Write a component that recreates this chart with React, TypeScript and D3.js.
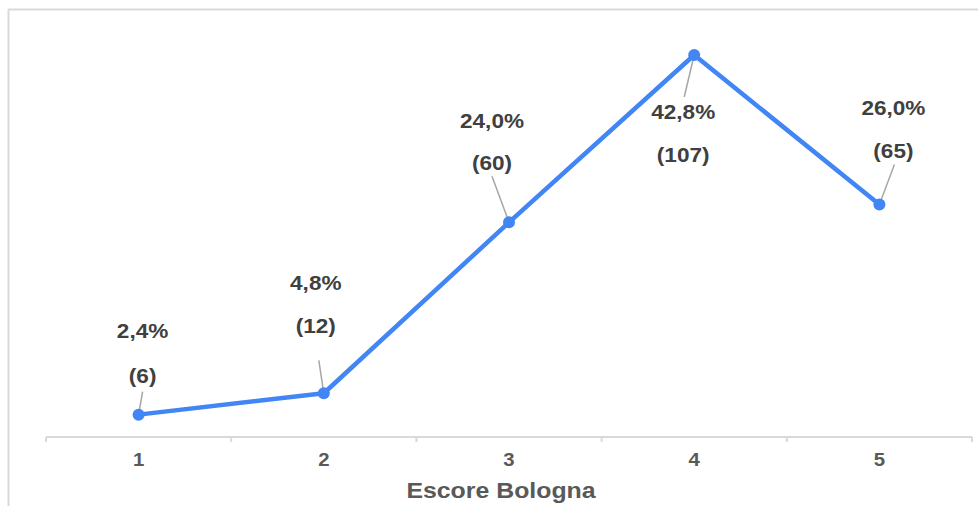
import React from "react";
import * as d3 from "d3";

const categories = ["1", "2", "3", "4", "5"];
const percentages = [2.4, 4.8, 24.0, 42.8, 26.0];
const counts = [6, 12, 60, 107, 65];
const axisTitle = "Escore Bologna";

// label placement relative to each point (layout only)
const labelLayout = [
  { dx: 4, pctDy: -83, cntDy: -38, lx: 4, ly: -23 },
  { dx: -8, pctDy: -110, cntDy: -67, lx: -5, ly: -33 },
  { dx: -17, pctDy: -101, cntDy: -59, lx: -17, ly: -46 },
  { dx: -11, pctDy: 57, cntDy: 100, lx: -10, ly: 42 },
  { dx: 14, pctDy: -96, cntDy: -53, lx: 15, ly: -40 },
];

const W = 978;
const H = 506;
const FONT = "'Liberation Sans', Arial, sans-serif";
const SX = 1.13;

export default function App() {
  const x = d3.scaleBand<string>().domain(categories).range([46, 972]).padding(0);
  const y = d3.scaleLinear().domain([0, 42.8]).range([436, 55]);
  const cx = (i: number) => (x(categories[i]) as number) + x.bandwidth() / 2;
  const line = d3
    .line<number>()
    .x((_, i) => cx(i))
    .y((d) => y(d));
  const boundaries = [...categories.map((c) => x(c) as number), 972];
  const fmt = (v: number) => v.toFixed(1).replace(".", ",") + "%";

  const stretchedText = (
    key: string,
    tx: number,
    ty: number,
    txt: string,
    size: number,
    fill: string
  ) => (
    <g key={key} transform={`translate(${tx},${ty}) scale(${SX},1)`}>
      <text
        x={0}
        y={0}
        textAnchor="middle"
        dominantBaseline="central"
        fontFamily={FONT}
        fontWeight="bold"
        fontSize={size}
        fill={fill}
      >
        {txt}
      </text>
    </g>
  );

  return (
    <svg
      width={W}
      height={H}
      style={{ position: "absolute", left: 0, top: 0, background: "#fff" }}
    >
      {/* frame */}
      <line x1={8} y1={9.5} x2={W} y2={9.5} stroke="#d9d9d9" strokeWidth={2} />
      <line x1={8.5} y1={9} x2={8.5} y2={H} stroke="#d9d9d9" strokeWidth={2} />

      {/* axis */}
      <line x1={46} y1={437} x2={972} y2={437} stroke="#d9d9d9" strokeWidth={2} />
      {boundaries.map((b, i) => (
        <line key={"t" + i} x1={b} y1={437} x2={b} y2={442} stroke="#d9d9d9" strokeWidth={2} />
      ))}
      {categories.map((c, i) => stretchedText("c" + i, cx(i), 460, c, 18, "#595959"))}
      {stretchedText("title", 501, 491, axisTitle, 22, "#595959")}

      {/* leaders */}
      {percentages.map((v, i) => {
        const px = cx(i);
        const py = y(v);
        const L = labelLayout[i];
        return (
          <line
            key={"l" + i}
            x1={px + L.lx}
            y1={py + L.ly}
            x2={px}
            y2={py}
            stroke="#a6a6a6"
            strokeWidth={1.5}
          />
        );
      })}

      {/* line */}
      <path d={line(percentages) || ""} fill="none" stroke="#4285f4" strokeWidth={4.5} strokeLinejoin="round" />
      {percentages.map((v, i) => (
        <circle key={"p" + i} cx={cx(i)} cy={y(v)} r={6} fill="#4285f4" />
      ))}

      {/* labels */}
      {percentages.map((v, i) => {
        const px = cx(i);
        const py = y(v);
        const L = labelLayout[i];
        return (
          <g key={"lab" + i}>
            {stretchedText("pct" + i, px + L.dx, py + L.pctDy, fmt(v), 20, "#404040")}
            {stretchedText("cnt" + i, px + L.dx, py + L.cntDy, `(${counts[i]})`, 20, "#404040")}
          </g>
        );
      })}
    </svg>
  );
}
